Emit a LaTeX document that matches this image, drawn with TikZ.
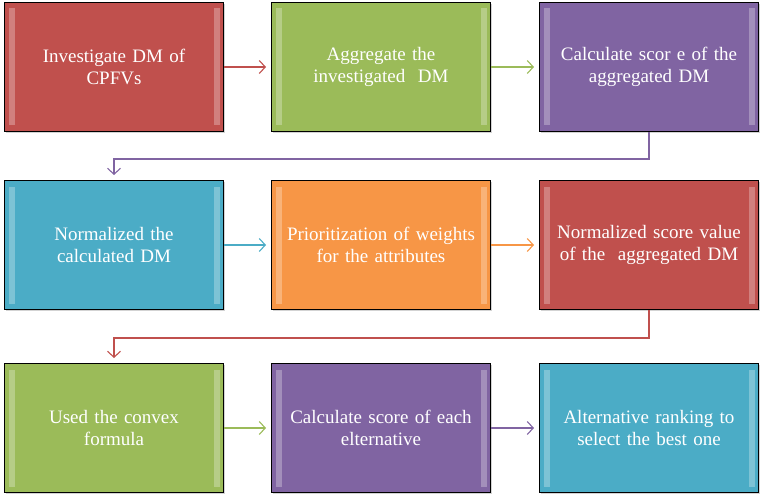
\documentclass[tikz,border=0pt]{standalone}
\usepackage{fontspec}
\setmainfont{Liberation Serif}
\usepackage{tikz}
\usetikzlibrary{arrows.meta,shadows}
\definecolor{stepRed}{HTML}{C0504D}
\definecolor{stepGreen}{HTML}{9BBB59}
\definecolor{stepPurple}{HTML}{8064A2}
\definecolor{stepAqua}{HTML}{4BACC6}
\definecolor{stepOrange}{HTML}{F79646}

\begin{document}
\begin{tikzpicture}[x=1pt, y=-1pt, >={Straight Barb[length=6pt,width=13pt]},
  stepbox/.style={draw=black, line width=1pt, fill=#1,
    minimum width=219pt, minimum height=129pt, text width=210pt,
    align=center, text=white, font=\fontsize{19}{22}\selectfont,
    drop shadow={shadow xshift=1.5pt, shadow yshift=-1.5pt, opacity=.35},
    path picture={
      \fill[white, opacity=.28]
        ([xshift=4pt,yshift=-6pt]path picture bounding box.north west) rectangle
        ([xshift=10pt,yshift=6pt]path picture bounding box.south west);
      \fill[white, opacity=.28]
        ([xshift=-4pt,yshift=-6pt]path picture bounding box.north east) rectangle
        ([xshift=-10pt,yshift=6pt]path picture bounding box.south east);
    }},
  link/.style={->, line width=1.1pt, draw=#1, shorten >=5pt}]
\useasboundingbox (0,0) rectangle (764,503);
% ---------- row 1 ----------
\node[stepbox=stepRed]    (inv)  at (114,67)  {Investigate DM of\\CPFVs};
\node[stepbox=stepGreen]  (agg)  at (381,67)  {Aggregate the\\investigated\ \ DM};
\node[stepbox=stepPurple] (scr)  at (649,67)  {Calculate scor e of the\\aggregated DM};
% ---------- row 2 ----------
\node[stepbox=stepAqua]   (norm) at (114,245) {Normalized the\\calculated DM};
\node[stepbox=stepOrange] (prio) at (381,245) {Prioritization of weights\\for the attributes};
\node[stepbox=stepRed]    (nsv)  at (649,245) {Normalized score value\\of the\ \ aggregated DM};
% ---------- row 3 ----------
\node[stepbox=stepGreen]  (cvx)  at (114,428) {Used the convex\\formula};
\node[stepbox=stepPurple] (each) at (381,428) {Calculate score of each\\elternative};
\node[stepbox=stepAqua]   (rank) at (649,428) {Alternative ranking to\\select the best one};
% ---------- connectors ----------
\draw[link=stepRed]    (inv)  -- (agg);
\draw[link=stepGreen]  (agg)  -- (scr);
\draw[link=stepPurple] (scr.south) -- ++(0,27) -| (norm.north);
\draw[link=stepAqua]   (norm) -- (prio);
\draw[link=stepOrange] (prio) -- (nsv);
\draw[link=stepRed]    (nsv.south) -- ++(0,28) -| (cvx.north);
\draw[link=stepGreen]  (cvx)  -- (each);
\draw[link=stepPurple] (each) -- (rank);
\end{tikzpicture}
\end{document}
